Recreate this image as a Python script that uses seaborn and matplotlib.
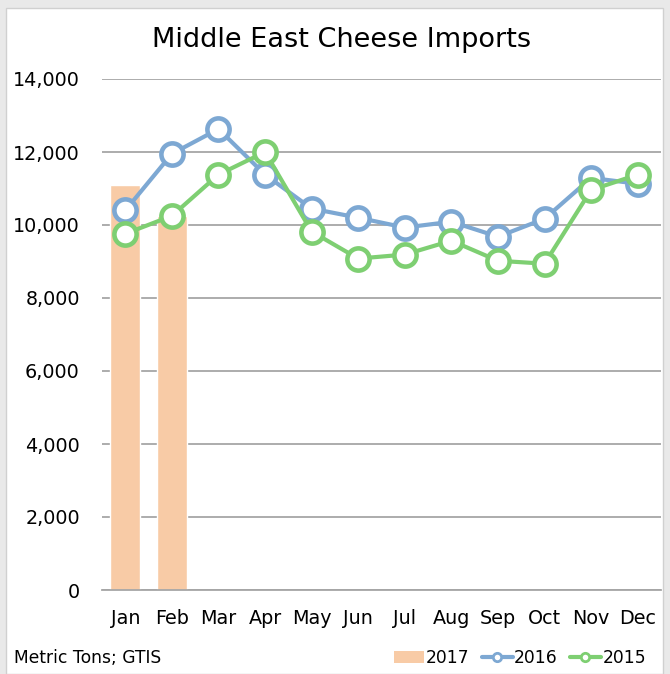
import matplotlib
matplotlib.use("Agg")
import matplotlib.pyplot as plt
import seaborn as sns
import pandas as pd
import numpy as np
from matplotlib.patches import Rectangle, Patch
from matplotlib.lines import Line2D
from matplotlib.ticker import FuncFormatter

months = ["Jan", "Feb", "Mar", "Apr", "May", "Jun", "Jul", "Aug", "Sep", "Oct", "Nov", "Dec"]
imports_2017 = [11100, 10250]
imports_2016 = [10400, 11950, 12630, 11380, 10450, 10200, 9930, 10090, 9680, 10170, 11290, 11130]
imports_2015 = [9760, 10250, 11380, 12000, 9820, 9080, 9190, 9570, 9020, 8940, 10960, 11380]

c2017 = "#F8CBA6"
c2016 = "#7DA8D3"
c2015 = "#7ECF72"
grid_c = "#A6A6A6"

sns.set_style("white")
plt.rcParams["font.family"] = ["DejaVu Sans"]
plt.rcParams["text.color"] = "black"

fig = plt.figure(figsize=(6.70, 6.74), dpi=100)
fig.patch.set_facecolor("#E9E9E9")
fig.patches.append(Rectangle((6 / 670, 0), 657 / 670, 1 - 8 / 674, transform=fig.transFigure,
                             facecolor="white", edgecolor="#D0D0D0", linewidth=1, zorder=-10))

ax = fig.add_axes([102 / 670, 1 - 590 / 674, 559 / 670, 511 / 674])
ax.set_zorder(5)
ax.set_facecolor("none")

df17 = pd.DataFrame({"month": months[:len(imports_2017)], "value": imports_2017})
sns.barplot(data=df17, x="month", y="value", order=months, color=c2017, width=0.65,
            saturation=1, ax=ax, zorder=2)

for vals, col in [(imports_2016, c2016), (imports_2015, c2015)]:
    d = pd.DataFrame({"month": months, "value": vals})
    sns.pointplot(data=d, x="month", y="value", order=months, color=col, errorbar=None,
                  markers="o", linestyles="-", ax=ax,
                  markersize=16, markeredgewidth=3.3, markerfacecolor="white",
                  markeredgecolor=col, linewidth=3.0, zorder=3)

ax.set_ylim(0, 14000)
ax.set_xlim(-0.5, 11.5)
ax.set_yticks(range(0, 14001, 2000))
ax.yaxis.set_major_formatter(FuncFormatter(lambda v, p: f"{int(v):,}"))
ax.grid(axis="y", color=grid_c, linewidth=1.3, zorder=0)
ax.set_axisbelow(True)
for s in ["top", "right", "left"]:
    ax.spines[s].set_visible(False)
ax.spines["bottom"].set_color(grid_c)
ax.spines["bottom"].set_linewidth(1.3)
ax.tick_params(axis="both", length=0, labelsize=13.8, colors="black")
ax.tick_params(axis="y", pad=16)
ax.tick_params(axis="x", pad=14)
ax.set_xlabel("")
ax.set_ylabel("")

fig.text(342 / 670, 1 - 40 / 674, "Middle East Cheese Imports", ha="center", va="center",
         fontsize=19.5, color="black")
fig.text(14 / 670, 1 - 658 / 674, "Metric Tons; GTIS", ha="left", va="center",
         fontsize=12.3, color="black")

handles = [
    Patch(facecolor=c2017, edgecolor="none"),
    Line2D([], [], color=c2016, linewidth=3, marker="o", markersize=6,
           markerfacecolor="white", markeredgecolor=c2016, markeredgewidth=2),
    Line2D([], [], color=c2015, linewidth=3, marker="o", markersize=6,
           markerfacecolor="white", markeredgecolor=c2015, markeredgewidth=2),
]
leg = fig.legend(handles, ["2017", "2016", "2015"], loc="center right",
                 bbox_to_anchor=(646 / 670, 1 - 658 / 674), ncol=3, frameon=False,
                 fontsize=12.3, handlelength=1.8, handletextpad=0.1, columnspacing=0.7,
                 borderaxespad=0, borderpad=0)
for t in leg.get_texts():
    t.set_color("black")

fig.savefig("out.png", dpi=100, facecolor=fig.get_facecolor())
